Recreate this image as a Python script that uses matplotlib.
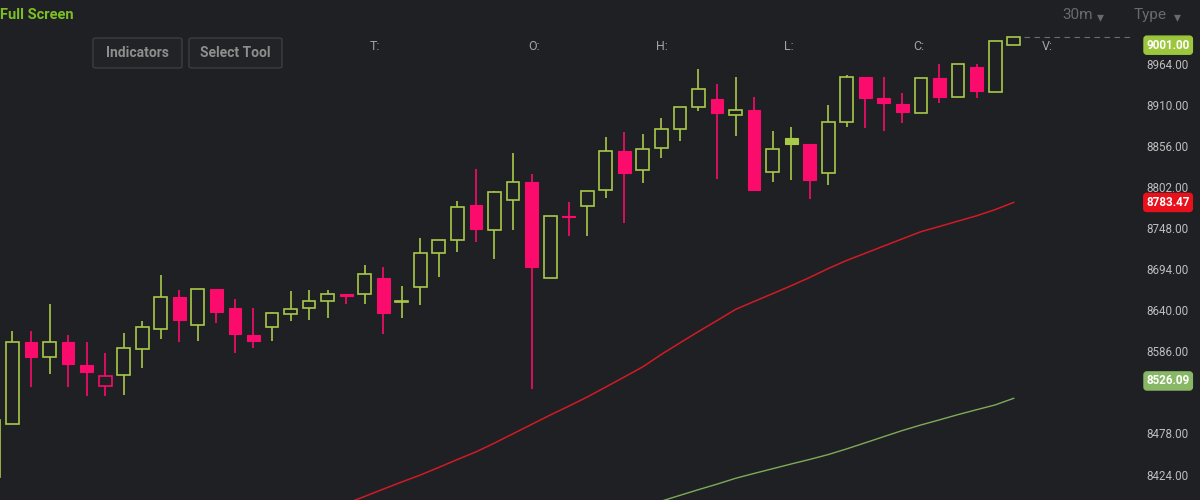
import matplotlib
matplotlib.use("Agg")
import matplotlib.pyplot as plt
from matplotlib.patches import FancyBboxPatch, Circle
import matplotlib.transforms as mtransforms

plt.rcParams['font.family'] = ['Roboto', 'DejaVu Sans']

# OHLC, one entry per 30m candle (index 0 is cut off at the left edge)
opens = [8422.7, 8492.3, 8599.7, 8580.3, 8600.0, 8569.8, 8542.2, 8556.7, 8590.9, 8616.7,
         8658.8, 8622.4, 8669.7, 8644.7, 8609.6, 8620.2, 8636.4, 8644.3, 8654.3, 8663.1,
         8662.7, 8683.7, 8653.0, 8672.7, 8717.4, 8734.1, 8780.1, 8747.2, 8786.6, 8809.9,
         8684.5, 8766.0, 8779.1, 8799.8, 8851.4, 8826.0, 8854.6, 8879.5, 8908.4, 8919.3,
         8898.7, 8904.9, 8823.0, 8868.7, 8859.8, 8821.7, 8888.7, 8948.6, 8920.2, 8912.8,
         8901.3, 8946.5, 8921.6, 8961.0, 8928.9, 8990.0]
highs = [8497.6, 8614.9, 8614.9, 8650.0, 8609.2, 8600.0, 8586.0, 8611.9, 8627.6, 8688.1,
         8668.4, 8669.7, 8669.7, 8656.6, 8645.1, 8639.9, 8667.5, 8668.4, 8668.4, 8663.1,
         8701.2, 8699.0, 8674.0, 8736.3, 8734.1, 8785.7, 8827.0, 8798.8, 8848.8, 8820.4,
         8766.0, 8783.6, 8798.8, 8869.0, 8876.4, 8873.3, 8894.0, 8908.4, 8958.4, 8939.0,
         8947.8, 8921.6, 8877.3, 8882.1, 8859.8, 8911.4, 8950.9, 8948.6, 8948.6, 8927.6,
         8946.5, 8964.9, 8964.9, 8964.9, 8995.9, 9001.0]
lows = [8422.7, 8492.3, 8541.3, 8558.0, 8540.9, 8529.1, 8529.5, 8530.4, 8566.3, 8604.0,
        8600.0, 8601.4, 8625.0, 8585.6, 8592.2, 8601.4, 8628.0, 8629.0, 8632.0, 8650.0,
        8650.0, 8610.2, 8631.2, 8648.7, 8685.1, 8718.7, 8731.8, 8709.1, 8747.2, 8537.9,
        8684.5, 8739.3, 8739.3, 8789.6, 8756.8, 8809.4, 8842.2, 8864.5, 8904.0, 8814.2,
        8870.7, 8799.8, 8810.7, 8812.9, 8787.9, 8806.3, 8882.9, 8881.6, 8877.3, 8888.2,
        8901.3, 8913.7, 8921.6, 8921.0, 8928.9, 8990.0]
closes = [8497.6, 8599.7, 8579.9, 8599.7, 8571.1, 8560.6, 8555.8, 8592.2, 8619.8, 8658.8,
          8629.0, 8669.7, 8639.9, 8610.6, 8601.8, 8638.2, 8643.8, 8654.3, 8663.1, 8660.9,
          8689.0, 8637.8, 8654.0, 8716.6, 8734.1, 8777.0, 8748.5, 8797.5, 8809.9, 8698.2,
          8766.0, 8764.7, 8798.8, 8851.4, 8821.7, 8853.6, 8879.5, 8908.4, 8932.9, 8900.5,
          8904.9, 8799.8, 8853.6, 8860.2, 8812.9, 8889.5, 8948.6, 8920.2, 8913.7, 8902.6,
          8946.5, 8921.6, 8964.9, 8929.8, 8995.9, 9001.0]

# moving averages (only the visible part)
ma_red_start = 18
ma_red = [8378.3, 8387.9, 8397.2, 8406.8, 8416.2, 8425.3, 8435.4, 8445.7, 8455.7, 8467.3,
          8479.6, 8491.8, 8504.1, 8515.7, 8527.8, 8540.9, 8554.1, 8567.5, 8583.8, 8598.9,
          8613.8, 8628.2, 8642.9, 8653.3, 8663.6, 8674.0, 8684.9, 8696.6, 8707.3, 8716.7,
          8726.2, 8735.6, 8745.0, 8751.9, 8758.9, 8765.9, 8774.0, 8783.47]
ma_green_start = 35
ma_green = [8383.4, 8391.0, 8398.6, 8406.1, 8413.3, 8421.0, 8427.4, 8433.6, 8439.8, 8445.8,
            8452.2, 8459.7, 8467.7, 8475.8, 8483.8, 8491.1, 8497.8, 8504.7, 8511.1, 8517.4,
            8526.09]

price_ticks = [8964, 8910, 8856, 8802, 8748, 8694, 8640, 8586, 8478, 8424]
ohlc_names = ["T:", "O:", "H:", "L:", "C:", "V:"]
ohlc_x = [375, 534, 662, 789, 919, 1047]

bg = "#1f2024"
up_col = "#a9c94a"
down_col = "#fb0b6b"

fig = plt.figure(figsize=(12, 5), dpi=100, facecolor=bg)
ax = fig.add_axes([0, 0, 1, 1])
ax.set_facecolor(bg)
ax.set_xlim(0.33, 65.05)
ax.set_ylim(8392.5, 9049.4)
for s in ax.spines.values():
    s.set_visible(False)
ax.set_xticks([])
ax.set_yticks([])

width = 0.69
for i in range(len(opens)):
    o, h, l, c = opens[i], highs[i], lows[i], closes[i]
    prev = closes[i - 1] if i > 0 else o
    col = up_col if (c >= prev) else down_col
    ax.vlines(i, l, h, color=col, lw=1.2, zorder=1)
    bottom = min(o, c)
    height = max(abs(c - o), 0.6)
    if c > o:
        # hollow body: close above open
        ax.bar(i, height, width, bottom=bottom, facecolor=bg, edgecolor=col, lw=1.2, zorder=2)
    else:
        ax.bar(i, height, width, bottom=bottom, facecolor=col, edgecolor=col, lw=0.8, zorder=2)

ax.plot(range(ma_red_start, ma_red_start + len(ma_red)), ma_red, color="#d21a24", lw=1.1, zorder=3)
ax.plot(range(ma_green_start, ma_green_start + len(ma_green)), ma_green, color="#80aa5a", lw=1.0, zorder=3)

# last price dashed line
last = closes[-1]
ax.plot([len(closes) - 1 + width / 2 + 0.2, 61.4], [last, last], color="#6b6c70", lw=0.8,
        ls=(0, (5, 4)), zorder=1)

trans = mtransforms.blended_transform_factory(fig.transFigure, ax.transData)
for v in price_ticks:
    ax.text(0.9905, v, f"{v:.2f}", transform=trans, ha="right", va="center",
            fontsize=8.4, color="#bdbdbd")


def price_tag(value, face, dy):
    ax.annotate(f"{value:.2f}", xy=(0.9915, value), xycoords=trans,
                xytext=(0, dy), textcoords="offset points", ha="right", va="center",
                fontsize=8.4, fontweight="bold", color="white",
                bbox=dict(boxstyle="round,pad=0.22,rounding_size=0.25", fc=face, ec=face))


price_tag(last, "#9cc63b", -6)
price_tag(ma_red[-1], "#e8101b", 0)
price_tag(ma_green[-1], "#88b866", 12.5)

# header texts
fig.text(0.0, 0.97, "Full Screen", color="#7dbf22", fontsize=10.5, fontweight="bold",
         ha="left", va="center")
fig.text(0.885, 0.97, "30m", color="#6a6a6a", fontsize=11, ha="left", va="center")
fig.text(0.914, 0.966, "\u25be", color="#6a6a6a", fontsize=10, ha="left", va="center",
         family="DejaVu Sans")
fig.text(0.945, 0.97, "Type", color="#6a6a6a", fontsize=11, ha="left", va="center")
fig.text(0.978, 0.966, "\u25be", color="#6a6a6a", fontsize=10, ha="left", va="center",
         family="DejaVu Sans")
for name, xp in zip(ohlc_names, ohlc_x):
    fig.text(xp / 1200, 1 - 46 / 500, name, color="#a3a3a3", fontsize=9, ha="center", va="center")

# buttons
for label, x0, x1 in [("Indicators", 93, 182), ("Select Tool", 189, 282)]:
    box = FancyBboxPatch((x0 / 1200, 1 - 68 / 500), (x1 - x0) / 1200, 30 / 500,
                         boxstyle="round,pad=0,rounding_size=0.003", transform=fig.transFigure,
                         fc="#222327", ec="#3c3d41", lw=1.0, zorder=5)
    fig.patches.append(box)
    fig.text((x0 + x1) / 2400, 1 - 53 / 500, label, color="#8e8e8e", fontsize=10,
             fontweight="bold", ha="center", va="center", zorder=6)

# partially visible scroll buttons at the bottom
for cx in [551, 637]:
    fig.patches.append(Circle((cx / 1200, -6 / 500), 0.0085, transform=fig.transFigure,
                              fc="#38393e", ec="none"))

fig.savefig("out.png", dpi=100, facecolor=bg)
